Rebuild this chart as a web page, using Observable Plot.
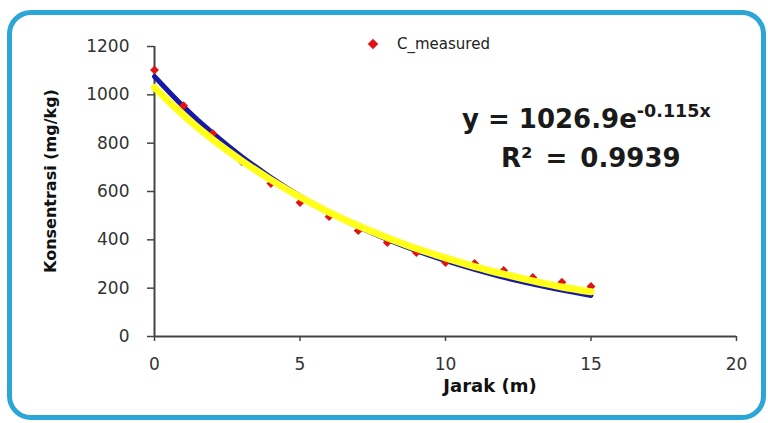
<!DOCTYPE html>
<html>
<head>
<meta charset="utf-8">
<script src="https://cdn.jsdelivr.net/npm/d3@7"></script>
<script src="https://cdn.jsdelivr.net/npm/@observablehq/plot@0.6"></script>
<style>
  html, body { margin: 0; padding: 0; background: #fff; }
  #wrap { position: relative; width: 768px; height: 423px; overflow: hidden; }
  #frame { position: absolute; left: 7px; top: 10px; width: 749px; height: 400px;
           border: 5px solid #2ba6d6; border-radius: 24px; background: #fff; }
  #chart { position: absolute; left: 0; top: 0; }
  svg { font-family: "DejaVu Sans", Verdana, sans-serif; }
</style>
</head>
<body>
<div id="wrap"><div id="frame"></div><div id="chart"></div></div>
<script>
// Data
const jarak = [0,1,2,3,4,5,6,7,8,9,10,11,12,13,14,15];
const cMeasured = [1103,955,840,724,633,554,496,438,389,347,306,302,273,244,225,207];
// Blue curve (model) values read at each metre
const cModel = [1076,951,841,744,658,581,514,454,402,355,314,278,245,217,192,170];
// Yellow curve (exponential trendline) values read at each metre
const cTrend = [1030,915,815,727,648,577,514,458,409,364,325,289,258,230,205,185];
const xTicks = [0,5,10,15,20];
const yTicks = [0,200,400,600,800,1000,1200];
const legendLabel = "C_measured";
const xLabel = "Jarak (m)";
const yLabel = "Konsentrasi (mg/kg)";
const eqMain = "y = 1026.9e";
const eqExp = "-0.115x";
const r2Text = "R² = 0.9939";

const measured = jarak.map((x,i)=>({x, y:cMeasured[i]}));
const model = jarak.map((x,i)=>({x, y:cModel[i]}));
const trend = jarak.map((x,i)=>({x, y:cTrend[i]}));

const plot = Plot.plot({
  width: 768, height: 423,
  marginLeft: 154, marginRight: 32, marginTop: 46, marginBottom: 87,
  style: {background: "transparent", fontSize: "17px", color: "#333", fontFamily: "DejaVu Sans, Verdana, sans-serif"},
  x: {domain: [0,20], ticks: xTicks, tickSize: 5, tickPadding: 16, label: null, tickFormat: d3.format("d")},
  y: {domain: [0,1200], ticks: yTicks, tickSize: 7, tickPadding: 18, label: null, tickFormat: d3.format("d")},
  marks: [
    Plot.ruleY([0], {stroke: "#444", strokeWidth: 2}),
    Plot.ruleX([0], {stroke: "#444", strokeWidth: 2}),
    Plot.line(model, {x: "x", y: "y", stroke: "#1818a8", strokeWidth: 5, curve: "catmull-rom"}),
    Plot.dot(measured, {x: "x", y: "y", symbol: "diamond2", r: 4, fill: "#e01414", stroke: "none"}),
    Plot.line(trend, {x: "x", y: "y", stroke: "#ffff1a", strokeWidth: 7, curve: "catmull-rom"})
  ]
});
document.getElementById("chart").appendChild(plot);

const svg = d3.select(plot);
svg.selectAll("[aria-label='x-axis tick'], [aria-label='y-axis tick']").attr("stroke", "#444").attr("stroke-width", 1.5);
// legend
svg.append("path").attr("d", d3.symbol(d3.symbolDiamond2, 70)()).attr("transform", "translate(373,44)").attr("fill", "#e01414");
svg.append("text").attr("text-anchor", "start").attr("x", 397).attr("y", 49).attr("font-size", 15).attr("fill", "#222").text(legendLabel);
// equation
const eq = svg.append("text").attr("text-anchor", "start").attr("x", 462).attr("y", 128).attr("font-size", 26).attr("font-weight", "bold").attr("fill", "#1a1a1a");
eq.append("tspan").text(eqMain);
eq.append("tspan").attr("font-size", 17.5).attr("dy", -11).text(eqExp);
svg.append("text").attr("text-anchor", "start").attr("x", 501).attr("y", 167).attr("font-size", 26).attr("font-weight", "bold")
  .attr("word-spacing", 4).attr("fill", "#1a1a1a").text(r2Text);
// axis labels
svg.append("text").attr("text-anchor", "middle").attr("transform", "translate(56,181) rotate(-90)")
  .attr("font-size", 16).attr("font-weight", "bold").attr("fill", "#111").text(yLabel);
svg.append("text").attr("text-anchor", "middle").attr("x", 490).attr("y", 392)
  .attr("font-size", 18).attr("font-weight", "bold").attr("fill", "#111").text(xLabel);
</script>
</body>
</html>
